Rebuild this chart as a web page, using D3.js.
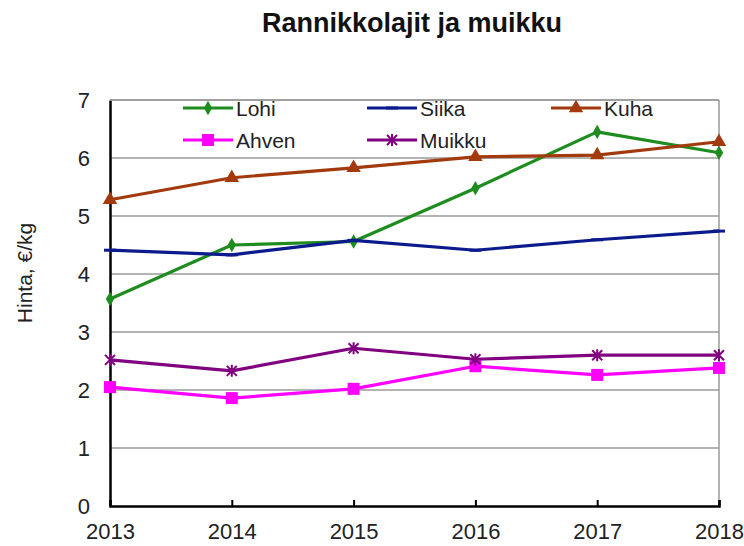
<!DOCTYPE html>
<html>
<head>
<meta charset="utf-8">
<script src="https://cdn.jsdelivr.net/npm/d3@7"></script>
<style>
  body { margin: 0; background: #fff; }
  svg { display: block; font-family: "Liberation Sans", Arial, sans-serif; }
</style>
</head>
<body>
<div id="chart"></div>
<script>
// data
const years = [2013, 2014, 2015, 2016, 2017, 2018];
const lohi   = [3.57, 4.50, 4.56, 5.48, 6.45, 6.09];
const siika  = [4.41, 4.33, 4.58, 4.41, 4.59, 4.74];
const kuha   = [5.28, 5.66, 5.83, 6.02, 6.05, 6.28];
const ahven  = [2.05, 1.86, 2.02, 2.41, 2.26, 2.38];
const muikku = [2.52, 2.33, 2.72, 2.53, 2.60, 2.60];
const yTicks = [0, 1, 2, 3, 4, 5, 6, 7];

const series = [
  { name: 'Lohi',   values: lohi,   color: '#1e8c1e', marker: 'diamond' },
  { name: 'Siika',  values: siika,  color: '#0b1a8c', marker: 'dash' },
  { name: 'Kuha',   values: kuha,   color: '#a33a0e', marker: 'triangle' },
  { name: 'Ahven',  values: ahven,  color: '#ff00ff', marker: 'square' },
  { name: 'Muikku', values: muikku, color: '#800080', marker: 'star' }
];

const W = 744, H = 546;
const plotL = 110, plotR = 719, plotT = 100, plotB = 506;

const svg = d3.select('#chart').append('svg').attr('width', W).attr('height', H);

const x = d3.scaleLinear().domain([2013, 2018]).range([plotL, plotR]);
const y = d3.scaleLinear().domain([0, 7]).range([plotB, plotT]);

// title
svg.append('text').attr('x', 412).attr('y', 32)
  .attr('text-anchor', 'middle').attr('font-size', 27).attr('font-weight', 'bold')
  .attr('fill', '#111').text('Rannikkolajit ja muikku');

// gridlines
svg.append('g').selectAll('line').data(yTicks.filter(d => d > 0)).join('line')
  .attr('x1', plotL).attr('x2', plotR)
  .attr('y1', d => y(d)).attr('y2', d => y(d))
  .attr('stroke', '#9a9a9a').attr('stroke-width', 1.5);
svg.append('line').attr('x1', plotR).attr('x2', plotR).attr('y1', plotT).attr('y2', plotB)
  .attr('stroke', '#9a9a9a').attr('stroke-width', 1.5);

// y axis
const yAxis = svg.append('g').attr('transform', `translate(${plotL},0)`)
  .call(d3.axisLeft(y).tickValues(yTicks).tickFormat(d3.format('d')).tickSize(0).tickPadding(20));
yAxis.select('.domain').attr('stroke', '#000').attr('stroke-width', 2.5);
yAxis.selectAll('text').attr('font-size', 22).attr('fill', '#222')
  .attr('font-family', '"Liberation Sans", Arial, sans-serif');

// x axis
const xAxis = svg.append('g').attr('transform', `translate(0,${plotB})`)
  .call(d3.axisBottom(x).tickValues(years).tickFormat(d3.format('d')).tickSize(-6).tickPadding(17));
xAxis.select('.domain').attr('stroke', '#000').attr('stroke-width', 2.5);
xAxis.selectAll('.tick line').attr('stroke', '#000').attr('stroke-width', 2);
xAxis.selectAll('text').attr('font-size', 22).attr('fill', '#222')
  .attr('font-family', '"Liberation Sans", Arial, sans-serif');

// y label
svg.append('text').attr('transform', 'translate(32,273) rotate(-90)')
  .attr('text-anchor', 'middle').attr('font-size', 21).attr('fill', '#222')
  .text('Hinta, €/kg');

function drawMarker(g, type, color) {
  if (type === 'diamond') {
    g.append('path').attr('d', d3.symbol(d3.symbolDiamond, 60)()).attr('fill', color);
  } else if (type === 'triangle') {
    g.append('path').attr('d', d3.symbol(d3.symbolTriangle, 90)()).attr('fill', color);
  } else if (type === 'square') {
    g.append('rect').attr('x', -6).attr('y', -6).attr('width', 12).attr('height', 12).attr('fill', color);
  } else if (type === 'star') {
    const s = 5;
    g.append('path')
      .attr('d', `M${-s},${-s}L${s},${s}M${-s},${s}L${s},${-s}M0,${-s - 1}L0,${s + 1}`)
      .attr('stroke', color).attr('stroke-width', 2).attr('fill', 'none');
  } else if (type === 'dash') {
    g.append('line').attr('x1', -6).attr('x2', 6).attr('stroke', color).attr('stroke-width', 3);
  }
}

const line = d3.line().x((d, i) => x(years[i])).y(d => y(d));

series.forEach(s => {
  svg.append('path').datum(s.values).attr('d', line)
    .attr('fill', 'none').attr('stroke', s.color).attr('stroke-width', 3.2)
    .attr('stroke-linejoin', 'round');
  svg.append('g').selectAll('g').data(s.values).join('g')
    .attr('transform', (d, i) => `translate(${x(years[i])},${y(d)})`)
    .each(function () { drawMarker(d3.select(this), s.marker, s.color); });
});

// top border and legend
svg.append('line').attr('x1', plotL).attr('x2', plotR).attr('y1', plotT).attr('y2', plotT)
  .attr('stroke', '#9a9a9a').attr('stroke-width', 1.5);

const legendCols = [183, 367, 551];
const legendRows = [108, 140];
series.forEach((s, i) => {
  const lx = legendCols[i % 3], ly = legendRows[Math.floor(i / 3)];
  const g = svg.append('g');
  g.append('line').attr('x1', lx).attr('x2', lx + 50).attr('y1', ly).attr('y2', ly)
    .attr('stroke', s.color).attr('stroke-width', 3.2);
  drawMarker(g.append('g').attr('transform', `translate(${lx + 25},${ly})`), s.marker, s.color);
  g.append('text').attr('x', lx + 53).attr('y', ly + 7.5)
    .attr('font-size', 21).attr('fill', '#222').text(s.name);
});
</script>
</body>
</html>
